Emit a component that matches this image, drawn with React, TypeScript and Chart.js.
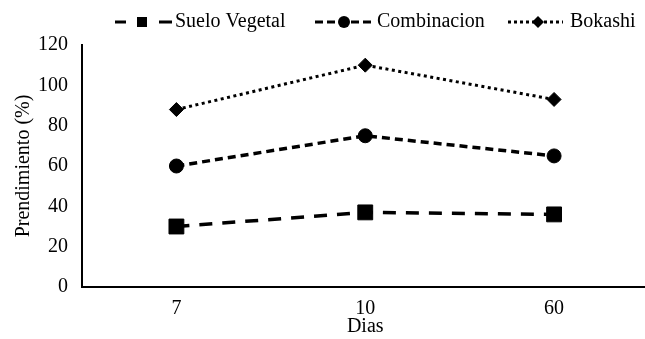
import React, { useEffect, useRef } from 'react';
import { Chart, registerables } from 'chart.js';

Chart.register(...registerables);

const categories = ['7', '10', '60'];
const sueloVegetal = [30, 37, 36];
const combinacion = [60, 75, 65];
const bokashi = [88, 110, 93];
const seriesNames = ['Suelo Vegetal', 'Combinacion', 'Bokashi'];
const yMin = 0;
const yMax = 120;
const yStep = 20;
const xTitle = 'Dias';
const yTitle = 'Prendimiento (%)';

const FONT = "'Liberation Serif', 'Times New Roman', serif";

const legendPlugin = {
  id: 'customLegend',
  afterDraw(chart: any) {
    const ctx = chart.ctx;
    const y = 22;
    ctx.save();
    ctx.strokeStyle = '#000';
    ctx.fillStyle = '#000';
    ctx.lineWidth = 3;
    // Suelo Vegetal
    ctx.setLineDash([]);
    ctx.beginPath();
    ctx.moveTo(115, y); ctx.lineTo(126, y);
    ctx.moveTo(159, y); ctx.lineTo(172, y);
    ctx.stroke();
    ctx.fillRect(137, y - 5, 10, 10);
    // Combinacion
    ctx.setLineDash([8, 4]);
    ctx.beginPath();
    ctx.moveTo(315, y); ctx.lineTo(374, y);
    ctx.stroke();
    ctx.setLineDash([]);
    ctx.beginPath();
    ctx.arc(344, y, 6, 0, Math.PI * 2);
    ctx.fill();
    // Bokashi
    ctx.setLineDash([3, 3]);
    ctx.beginPath();
    ctx.moveTo(508, y); ctx.lineTo(563, y);
    ctx.stroke();
    ctx.setLineDash([]);
    ctx.beginPath();
    ctx.moveTo(538, y - 6); ctx.lineTo(544, y); ctx.lineTo(538, y + 6); ctx.lineTo(532, y);
    ctx.closePath();
    ctx.fill();
    // Texts
    ctx.font = `20px ${FONT}`;
    ctx.textBaseline = 'middle';
    ctx.textAlign = 'left';
    ctx.fillText(seriesNames[0], 175, y);
    ctx.fillText(seriesNames[1], 377, y);
    ctx.fillText(seriesNames[2], 570, y);
    ctx.restore();
  },
};

export default function App() {
  const ref = useRef<HTMLCanvasElement>(null);
  useEffect(() => {
    if (!ref.current) return;
    const chart = new Chart(ref.current, {
      type: 'line',
      data: {
        labels: categories,
        datasets: [
          {
            label: seriesNames[0],
            data: sueloVegetal,
            borderColor: '#000',
            backgroundColor: '#000',
            borderWidth: 3.5,
            borderDash: [13, 10],
            pointStyle: 'rect',
            pointRadius: 10.5,
            pointBorderWidth: 1,
            pointBackgroundColor: '#000',
            pointBorderColor: '#000',
            tension: 0,
          },
          {
            label: seriesNames[1],
            data: combinacion,
            borderColor: '#000',
            backgroundColor: '#000',
            borderWidth: 3.5,
            borderDash: [8, 5],
            pointStyle: 'circle',
            pointRadius: 7,
            pointBorderWidth: 1,
            pointBackgroundColor: '#000',
            pointBorderColor: '#000',
            tension: 0,
          },
          {
            label: seriesNames[2],
            data: bokashi,
            borderColor: '#000',
            backgroundColor: '#000',
            borderWidth: 3,
            borderDash: [3, 3.5],
            pointStyle: 'rectRot',
            pointRadius: 7,
            pointBorderWidth: 1,
            pointBackgroundColor: '#000',
            pointBorderColor: '#000',
            tension: 0,
          },
        ],
      },
      options: {
        responsive: false,
        animation: false,
        layout: { padding: { top: 45, right: 8, left: 0, bottom: 0 } },
        plugins: {
          legend: { display: false },
          tooltip: { enabled: false },
        },
        scales: {
          x: {
            type: 'category',
            offset: true,
            grid: { display: false, drawTicks: false },
            border: { display: true, color: '#000', width: 2 },
            ticks: { color: '#000', font: { family: FONT, size: 20 }, padding: 10 },
            title: {
              display: true,
              text: xTitle,
              color: '#000',
              font: { family: FONT, size: 20 },
              padding: { top: 5, bottom: 0 },
            },
            afterFit: (s: any) => { s.height = 52; },
          },
          y: {
            min: yMin,
            max: yMax,
            grid: { display: false, drawTicks: false },
            border: { display: true, color: '#000', width: 2 },
            ticks: { stepSize: yStep, color: '#000', font: { family: FONT, size: 20 }, padding: 14 },
            title: {
              display: true,
              text: yTitle,
              color: '#000',
              font: { family: FONT, size: 20 },
              padding: { top: 12, bottom: 0 },
            },
            afterFit: (s: any) => { s.width = 82; },
          },
        },
      },
      plugins: [legendPlugin],
    });
    return () => chart.destroy();
  }, []);
  return (
    <div style={{ position: 'fixed', left: 0, top: 0, width: 645, height: 339, overflow: 'hidden', background: '#fff' }}>
      <canvas ref={ref} width={660} height={339} style={{ display: 'block' }} />
    </div>
  );
}
